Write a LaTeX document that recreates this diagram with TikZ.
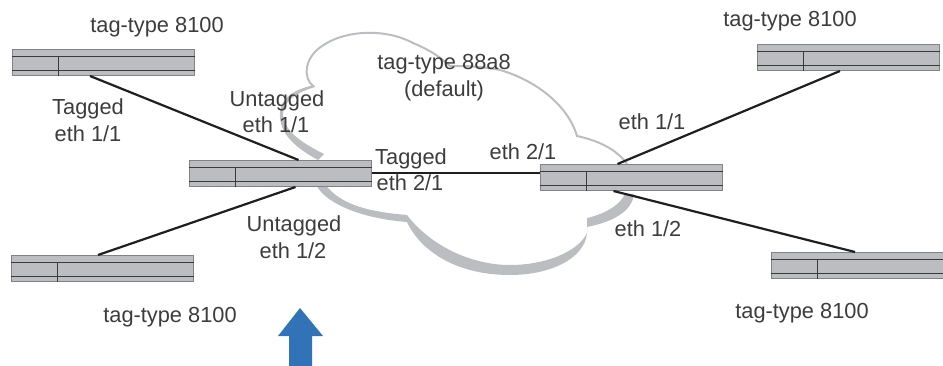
\documentclass[tikz,border=0pt]{standalone}
\usepackage{fontspec}
\setmainfont{Liberation Sans}
\usetikzlibrary{calc}
\definecolor{swfill}{HTML}{BCBDC0}
\definecolor{swedge}{HTML}{808285}
\definecolor{swline}{HTML}{3A3A3C}
\definecolor{cloudc}{HTML}{BCBDC0}
\definecolor{txt}{HTML}{3C3C3E}
\definecolor{arrowc}{HTML}{3273B8}
\tikzset{
  x=1pt,y=-1pt,
  switchbox/.style={draw=swedge,fill=swfill,line width=1pt,minimum width=182pt,minimum height=26pt,inner sep=0pt,anchor=north west},
  link/.style={draw=black!88,line width=2.2pt},
  lbl/.style={text=txt,font=\fontsize{21.8pt}{24pt}\selectfont,anchor=base,inner sep=0pt},
  swdiv/.style={draw=swline,line width=1pt},
  cloudfill/.style={fill=cloudc,draw=none},
  cloudthin/.style={draw=cloudc,line width=2pt,line join=miter}
}
\newcommand{\swt}[3]{%
  \node[switchbox] (#1) at (#2,#3) {};
  \draw[swdiv] ([yshift=-8pt]#1.north west) -- ([yshift=-8pt]#1.north east);
  \draw[swdiv] ([yshift=-22pt]#1.north west) -- ([yshift=-22pt]#1.north east);
  \draw[swdiv] ([xshift=46.5pt,yshift=-8pt]#1.north west) -- ([xshift=46.5pt]#1.south west);
}
\begin{document}
\begin{tikzpicture}
\useasboundingbox (0,0) rectangle (943,366);
% cloud
\draw[cloudthin] (313,86) .. controls (303,78) and (304,58) .. (322,46)
  .. controls (345,30) and (385,28) .. (413,43)
  .. controls (430,50) and (440,57) .. (450,66)
  .. controls (465,66) and (480,66) .. (500,70)
  .. controls (535,80) and (568,105) .. (577,136)
  .. controls (600,141) and (617,150) .. (627,164);
% left lobe
\path[cloudfill] (314,85) .. controls (298,89) and (281,95) .. (280,113)
  .. controls (279,130) and (290,145) .. (318,160) -- (324,154)
  .. controls (300,142) and (283,130) .. (283,113)
  .. controls (284,100) and (298,92) .. (315,87) -- cycle;
% bottom
\path[cloudfill] (316,184) .. controls (322,200) and (355,218) .. (407,222)
  .. controls (420,250) and (455,275) .. (510,275)
  .. controls (555,275) and (590,255) .. (587,227)
  .. controls (612,222) and (632,212) .. (634,194)
  -- (625,194)
  .. controls (620,205) and (605,214) .. (587,218)
  -- (587,233)
  .. controls (578,252) and (545,265) .. (510,265)
  .. controls (470,265) and (430,245) .. (407,215)
  .. controls (370,212) and (340,205) .. (325,184) -- cycle;
% switches
\swt{tl}{12}{49}
\swt{bl}{11}{255}
\swt{ctr}{188.5}{160}
\swt{rgt}{539.5}{164}
\swt{tr}{757}{44}
\swt{br}{771}{252}
% links
\draw[link] ([xshift=78pt]tl.south west) -- ([xshift=110pt]ctr.north west);
\draw[link] ([xshift=87pt]bl.north west) -- ([xshift=107pt]ctr.south west);
\draw[link] ([yshift=-13pt]ctr.north east) -- ([yshift=-9pt]rgt.north west);
\draw[link] ([xshift=83pt]tr.south west) -- ([xshift=78pt]rgt.north west);
\draw[link] ([xshift=84pt]br.north west) -- ([xshift=74pt]rgt.south west);
% labels
\node[lbl] (t1) at (157,33) {tag-type 8100};
\node[lbl] (t2) at (88,115) {Tagged};
\node[lbl] (t3) at (88,142) {eth 1/1};
\node[lbl] (t4) at (277,107) {Untagged};
\node[lbl] (t5) at (276,133) {eth 1/1};
\node[lbl] (t6) at (444,70) {tag-type 88a8};
\node[lbl] (t7) at (444,97) {(default)};
\node[lbl] (t8) at (411,165) {Tagged};
\node[lbl] (t9) at (410,191) {eth 2/1};
\node[lbl] (t10) at (523,160) {eth 2/1};
\node[lbl] (t11) at (652,130) {eth 1/1};
\node[lbl] (t12) at (648,237) {eth 1/2};
\node[lbl] (t13) at (790,27) {tag-type 8100};
\node[lbl] (t14) at (802,318) {tag-type 8100};
\node[lbl] (t15) at (170,323) {tag-type 8100};
\node[lbl] (t16) at (294,232) {Untagged};
\node[lbl] (t17) at (293,259) {eth 1/2};
% arrow
\path[fill=arrowc] (300,308) -- (323,336) -- (312,336) -- (312,367) -- (289,367) -- (289,336) -- (278,336) -- cycle;
\end{tikzpicture}
\end{document}
